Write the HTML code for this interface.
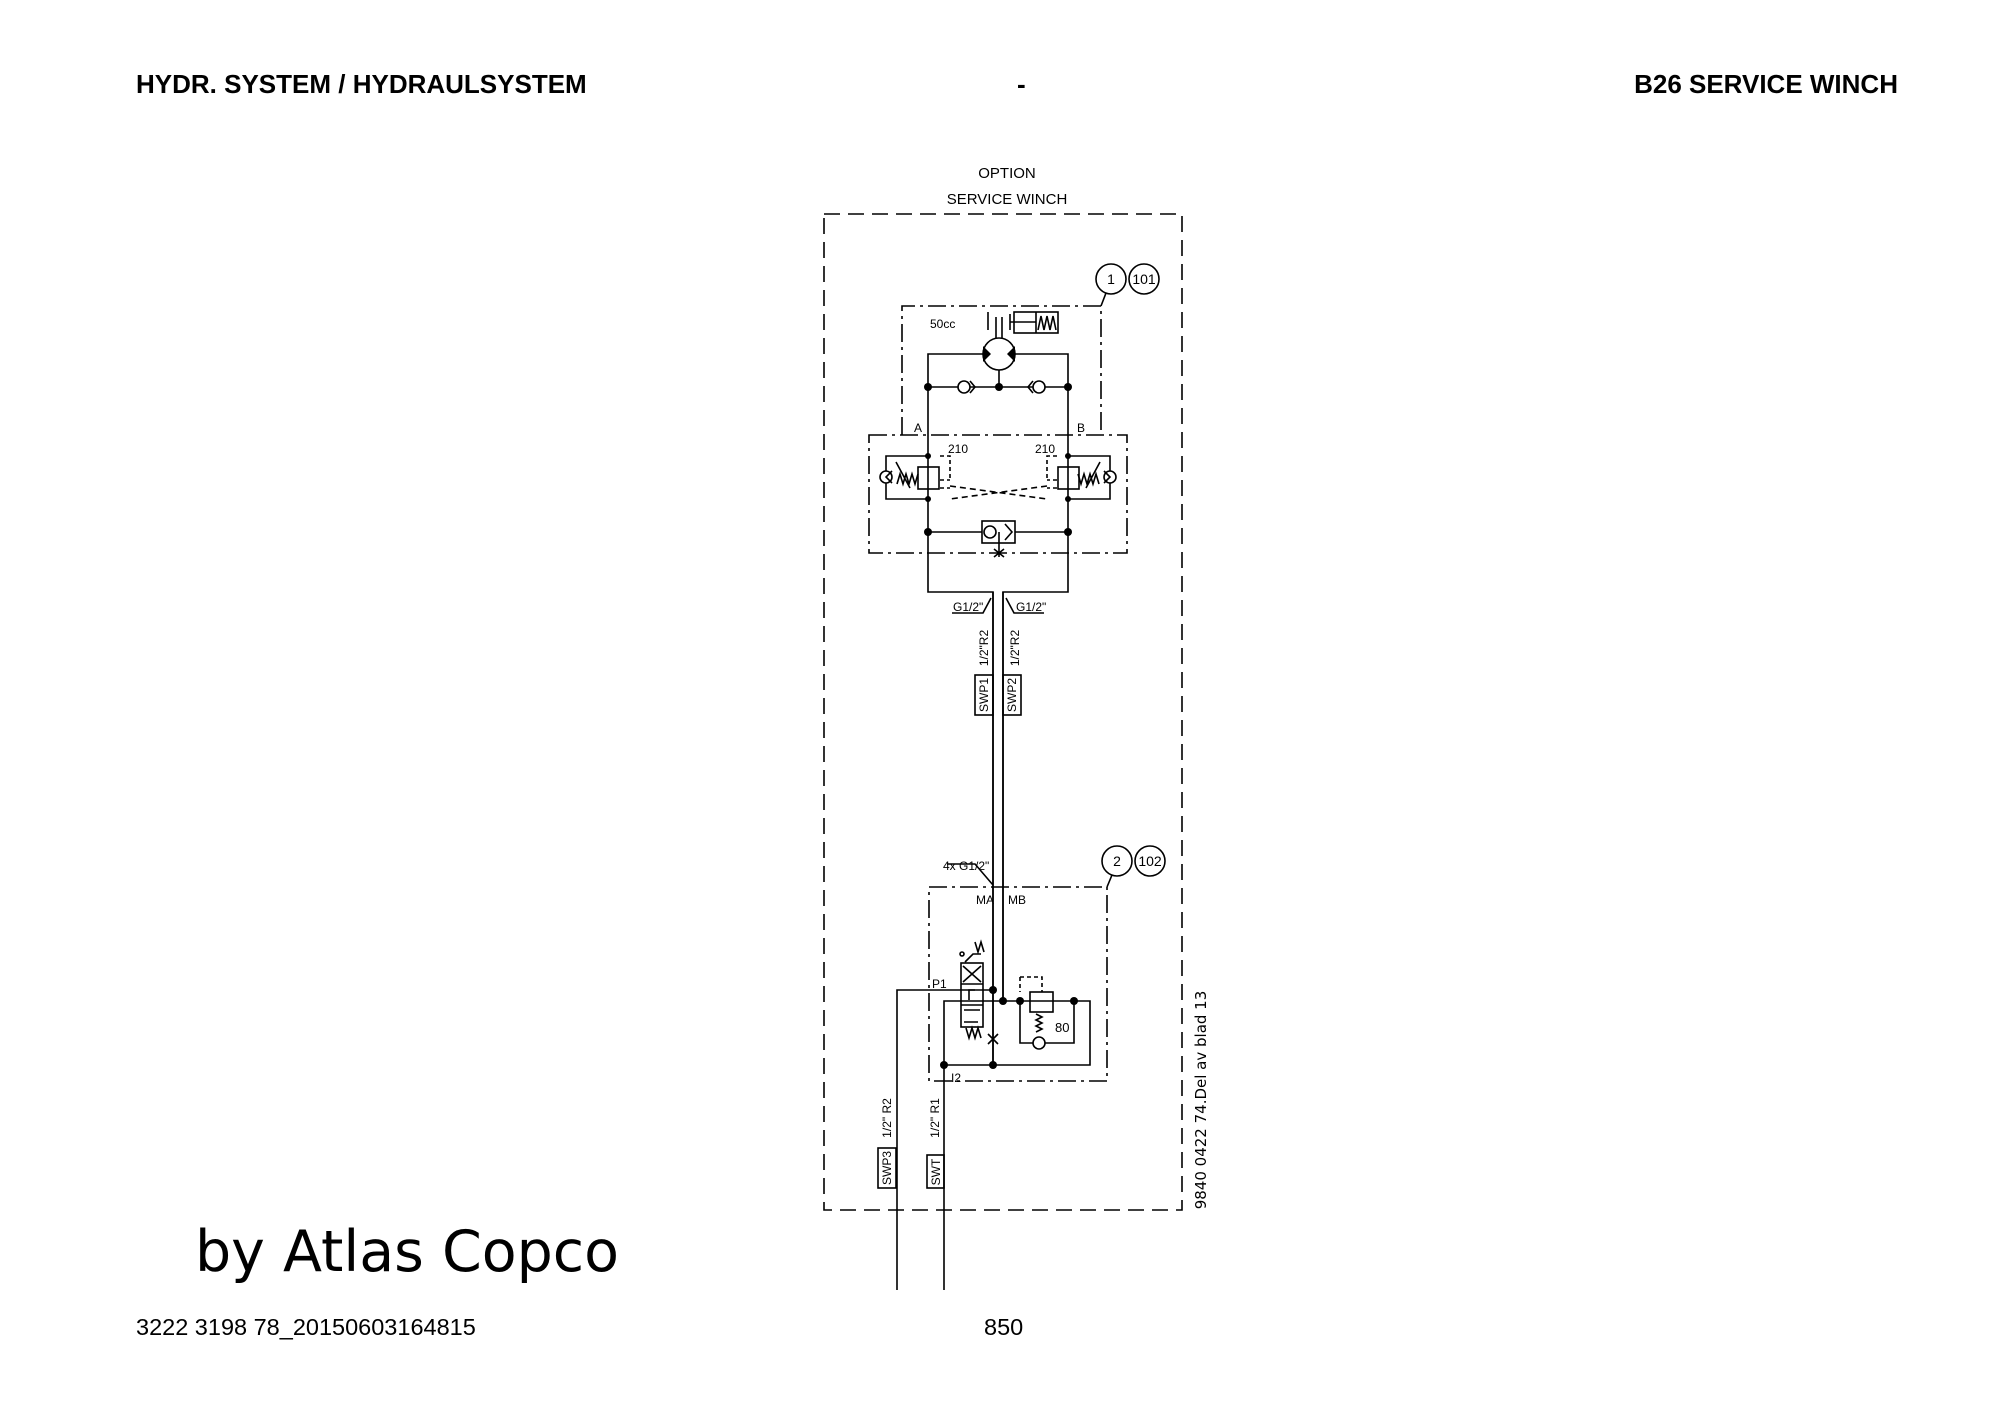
<!DOCTYPE html>
<html><head><meta charset="utf-8"><style>
body{margin:0;background:#fff}
svg{display:block}
.h{font-family:"Liberation Sans",sans-serif;font-weight:bold;font-size:26px}
.t{font-family:"Liberation Sans",sans-serif;font-size:12px}
</style></head><body>
<svg width="2000" height="1414" viewBox="0 0 2000 1414" xmlns="http://www.w3.org/2000/svg">
<text x="136" y="93" class="h">HYDR. SYSTEM / HYDRAULSYSTEM</text>
<text x="1017" y="93" class="h">-</text>
<text x="1898" y="93" class="h" text-anchor="end">B26 SERVICE WINCH</text>
<text x="195" y="1271" font-family="DejaVu Sans,sans-serif" font-size="57">by Atlas Copco</text>
<text x="136" y="1335" font-family="Liberation Sans,sans-serif" font-size="23.5">3222 3198 78_20150603164815</text>
<text x="984" y="1335" font-family="Liberation Sans,sans-serif" font-size="23.5">850</text>

<g fill="none" stroke="#000" stroke-width="1.6">
<rect x="824" y="214" width="358" height="996" stroke-dasharray="16,8"/>
<path d="M902 435V306H1101V435" stroke-dasharray="18,5,3,5"/>
<path d="M1101 306L1106 293"/>
<circle cx="1111" cy="279" r="15"/><circle cx="1144" cy="279" r="15"/>
<rect x="869" y="435" width="258" height="118" stroke-dasharray="18,5,3,5"/>
<circle cx="999" cy="354" r="16"/>
<path d="M983 354H928V592H993V1065M1015 354H1068V592H1003V1001"/>
<path d="M928 387H1068M999 370V387M996 338V317M1002 338V317M988 312V330M1010 314V330M1010 322H1036"/>
<rect x="1014" y="312" width="44" height="21"/>
<path d="M1036 312V333M1038 330l3-14 3 14 3-14 3 14 3-14 3 14"/>
<circle cx="964" cy="387" r="6" fill="#fff"/><path d="M970 381l5 6-5 6"/>
<circle cx="1039" cy="387" r="6" fill="#fff"/><path d="M1033 381l-5 6 5 6"/>
<path d="M928 456H886V499H928M1068 456H1110V499H1068"/>
<rect x="918" y="467" width="21" height="22"/><rect x="1058" y="467" width="21" height="22"/>
<circle cx="886" cy="477" r="6" fill="#fff"/><circle cx="1110" cy="477" r="6" fill="#fff"/>
<path d="M892 471l-6 6 6 6M1104 471l6 6-6 6"/>
<path d="M897 484l3-10 3 10 3-10 3 10 3-10 3 10 3-10M896 462l14 26M1099 484l-3-10-3 10-3-10-3 10-3-10-3 10-3-10M1100 462l-14 26"/>
<path d="M940 456H950V478M1057 456H1047V478M940 480H950M1057 480H1047M940 488H950M1057 488H1047" stroke-dasharray="4,3"/>
<path d="M950 486L1047 499M1047 486L950 499" stroke-dasharray="6,4"/>
<path d="M928 532H1068"/>
<rect x="982" y="521" width="33" height="22" fill="#fff"/>
<circle cx="990" cy="532" r="6"/><path d="M1005 524l7 8-7 8M999 532V557M994 549l10 8M1004 549l-10 8"/>
<path d="M993 592V1065M1003 592V1001"/>
<path d="M952 613H983L991 598M1044 613H1014L1006 598"/>
<rect x="975" y="675" width="18" height="40"/><rect x="1003" y="675" width="18" height="40"/>
<path d="M929 887H1107V1081H929Z" stroke-dasharray="18,5,3,5"/>
<path d="M1107 887L1112 875"/>
<circle cx="1117" cy="861" r="15"/><circle cx="1150" cy="861" r="15"/>
<path d="M947 864H975L993 885"/>
<path d="M897 1290V990H993M944 1290V1001H1090V1065H944M1003 1001H1020M1020 1001V1043H1074V1001"/>
<path d="M988 1034l10 10M998 1034l-10 10"/>
<rect x="961" y="963" width="22" height="64"/>
<path d="M961 984H983M961 1005H983M963 966l18 16M981 966l-18 16M975 990H969V1000M964 1010H980M964 1022H978"/>
<path d="M965 962l8-8h8M966 1028l3 10 3-10 3 10 3-10 3 10M975 942l3 10 3-10 3 10"/>
<circle cx="962" cy="954" r="2"/>
<rect x="1030" y="992" width="23" height="20"/>
<path d="M1020 977H1042V992" stroke-dasharray="4,3"/>
<path d="M1020 977V992" stroke-dasharray="4,3"/>
<path d="M1036 1014l6 3-6 3 6 3-6 3 6 3-6 3"/>
<circle cx="1039" cy="1043" r="6" fill="#fff"/>
<rect x="878" y="1148" width="18" height="40"/><rect x="927" y="1155" width="17" height="33"/>
</g>
<g fill="#000">
<circle cx="928" cy="387" r="4"/><circle cx="999" cy="387" r="4"/><circle cx="1068" cy="387" r="4"/>
<circle cx="928" cy="456" r="3"/><circle cx="1068" cy="456" r="3"/><circle cx="928" cy="499" r="3"/><circle cx="1068" cy="499" r="3"/>
<circle cx="928" cy="532" r="4"/><circle cx="1068" cy="532" r="4"/>
<circle cx="993" cy="990" r="4"/><circle cx="1003" cy="1001" r="4"/><circle cx="1020" cy="1001" r="4"/><circle cx="1074" cy="1001" r="4"/>
<circle cx="944" cy="1065" r="4"/><circle cx="993" cy="1065" r="4"/>
<path d="M983 346l8 8-8 8zM1015 346l-8 8 8 8z"/>
</g>
<g class="t">
<text x="1007" y="178" text-anchor="middle" font-size="15">OPTION</text>
<text x="1007" y="204" text-anchor="middle" font-size="15">SERVICE WINCH</text>
<text x="1111" y="284" text-anchor="middle" font-size="14">1</text>
<text x="1144" y="284" text-anchor="middle" font-size="14">101</text>
<text x="1117" y="866" text-anchor="middle" font-size="14">2</text>
<text x="1150" y="866" text-anchor="middle" font-size="14">102</text>
<text x="930" y="328">50cc</text>
<text x="914" y="432">A</text><text x="1077" y="432">B</text>
<text x="948" y="453">210</text><text x="1035" y="453">210</text>
<text x="953" y="611">G1/2"</text><text x="1016" y="611">G1/2"</text>
<text x="988" y="648" transform="rotate(-90 988 648)" text-anchor="middle">1/2"R2</text>
<text x="1019" y="648" transform="rotate(-90 1019 648)" text-anchor="middle">1/2"R2</text>
<text x="988" y="695" transform="rotate(-90 988 695)" text-anchor="middle">SWP1</text>
<text x="1016" y="695" transform="rotate(-90 1016 695)" text-anchor="middle">SWP2</text>
<text x="943" y="870">4x G1/2"</text>
<text x="976" y="904">MA</text><text x="1008" y="904">MB</text>
<text x="932" y="988">P1</text><text x="951" y="1082">I2</text>
<text x="1055" y="1032" font-size="13">80</text>
<text x="891" y="1118" transform="rotate(-90 891 1118)" text-anchor="middle">1/2" R2</text>
<text x="939" y="1118" transform="rotate(-90 939 1118)" text-anchor="middle">1/2" R1</text>
<text x="891" y="1168" transform="rotate(-90 891 1168)" text-anchor="middle">SWP3</text>
<text x="940" y="1172" transform="rotate(-90 940 1172)" text-anchor="middle">SWT</text>
<text x="1206" y="1100" transform="rotate(-90 1206 1100)" text-anchor="middle" font-family="DejaVu Sans,sans-serif" font-size="15">9840 0422 74.Del av blad 13</text>
</g>
</svg>
</body></html>
